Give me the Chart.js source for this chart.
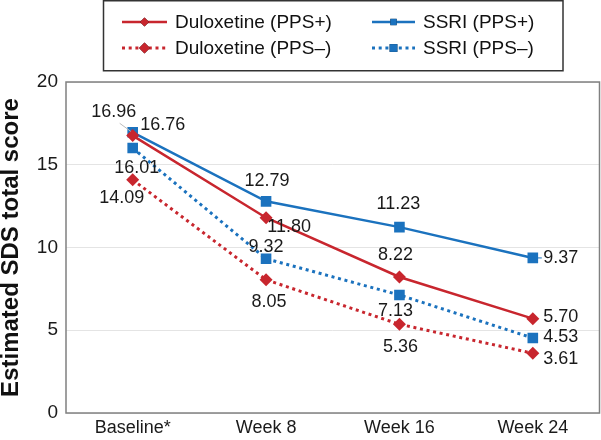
<!DOCTYPE html>
<html>
<head>
<meta charset="utf-8">
<script src="https://cdn.jsdelivr.net/npm/chart.js@4"></script>
<style>
  body { margin: 0; background: #fff; }
  canvas { display: block; }
</style>
</head>
<body>
<canvas id="sdsChart" width="601" height="440"></canvas>
<script>
// Estimated SDS total score over time, by treatment and PPS group
const categories = ["Baseline*", "Week 8", "Week 16", "Week 24"];
const duloxetinePlus = [16.76, 11.8, 8.22, 5.7];
const duloxetineMinus = [14.09, 8.05, 5.36, 3.61];
const ssriPlus = [16.96, 12.79, 11.23, 9.37];
const ssriMinus = [16.01, 9.32, 7.13, 4.53];
const yTicks = [0, 5, 10, 15, 20];

const RED = "#c8262e";
const BLUE = "#1b72be";
const FONT = "'Liberation Sans', Arial, Helvetica, sans-serif";

function makeDataset(label, data, color, dotted, style) {
  return {
    label,
    data,
    borderColor: color,
    backgroundColor: color,
    borderWidth: dotted ? 3 : 2.5,
    borderDash: dotted ? [3, 3.7] : [],
    pointStyle: style,
    pointRadius: style === "rect" ? 7.5 : 6.5,
    pointBorderWidth: 0,
    pointBackgroundColor: color,
    tension: 0,
    fill: false,
  };
}

const datasets = [
  makeDataset("Duloxetine (PPS+)", duloxetinePlus, RED, false, "rectRot"),
  makeDataset("Duloxetine (PPS–)", duloxetineMinus, RED, true, "rectRot"),
  makeDataset("SSRI (PPS+)", ssriPlus, BLUE, false, "rect"),
  makeDataset("SSRI (PPS–)", ssriMinus, BLUE, true, "rect"),
];

// label placement relative to each point (dx, dy), plus optional leader line
const labelOffsets = [
  [[30, -11], [23, 9], [-4, -22], [28, -2]],
  [[-11, 18], [3, 22], [1, 23], [28, 6]],
  [[-19, -20, true], [1, -20], [-1, -23], [28, 0, true]],
  [[4, 20], [0, -12], [-4, 16], [28, -1]],
];

const customDraw = {
  id: "customDraw",
  beforeDatasetsDraw(chart) {
    const { ctx, chartArea: a } = chart;
    ctx.save();
    ctx.strokeStyle = "#808080";
    ctx.lineWidth = 1.5;
    ctx.strokeRect(a.left, a.top, a.right - a.left, a.bottom - a.top);
    ctx.restore();
  },
  afterDatasetsDraw(chart) {
    const { ctx } = chart;
    ctx.save();
    ctx.font = "18px " + FONT;
    ctx.textAlign = "center";
    ctx.textBaseline = "middle";
    chart.data.datasets.forEach((ds, i) => {
      const meta = chart.getDatasetMeta(i);
      meta.data.forEach((pt, j) => {
        const [dx, dy, leader] = labelOffsets[i][j];
        const text = ds.data[j].toFixed(2);
        const lx = pt.x + dx;
        const ly = pt.y + dy;
        if (leader) {
          ctx.strokeStyle = dx < 0 ? "#bbbbbb" : ds.borderColor;
          ctx.lineWidth = 1;
          ctx.beginPath();
          if (dx < 0) {
            ctx.moveTo(lx + 6, ly + 11);
            ctx.lineTo(pt.x - 2, pt.y - 1);
          } else {
            ctx.moveTo(pt.x + 5, pt.y);
            ctx.lineTo(lx - 19, ly);
          }
          ctx.stroke();
        }
        ctx.fillStyle = "#1a1a1a";
        ctx.fillText(text, lx, ly);
      });
    });
    ctx.restore();
  },
  afterDraw(chart) {
    const { ctx, chartArea: a } = chart;
    ctx.save();
    // y axis title
    ctx.translate(11, (a.top + a.bottom) / 2);
    ctx.rotate(-Math.PI / 2);
    ctx.font = "bold 24px " + FONT;
    ctx.fillStyle = "#111";
    ctx.textAlign = "center";
    ctx.textBaseline = "middle";
    ctx.fillText("Estimated SDS total score", 0, 0);
    ctx.restore();

    // legend box
    ctx.save();
    ctx.strokeStyle = "#333";
    ctx.lineWidth = 1.5;
    ctx.strokeRect(103.5, 0.75, 459.5, 70);
    const cols = [[122, 167, 175], [372, 415, 423]];
    const rows = [22, 48];
    chart.data.datasets.forEach((ds, i) => {
      const [x0, x1, tx] = cols[Math.floor(i / 2)];
      const y = rows[i % 2];
      const dotted = ds.borderDash.length > 0;
      ctx.strokeStyle = ds.borderColor;
      ctx.lineWidth = dotted ? 3 : 2.5;
      ctx.setLineDash(dotted ? [3, 3.7] : []);
      ctx.beginPath();
      ctx.moveTo(x0, y);
      ctx.lineTo(x1, y);
      ctx.stroke();
      ctx.setLineDash([]);
      Chart.helpers.drawPoint(ctx, {
        pointStyle: ds.pointStyle,
        radius: dotted ? 5.5 : 4.5,
        borderWidth: 0,
        rotation: 0,
      }, (x0 + x1) / 2, y);
      ctx.fillStyle = ds.borderColor;
      ctx.fill();
      ctx.fillStyle = "#111";
      ctx.font = "19px " + FONT;
      ctx.textAlign = "left";
      ctx.textBaseline = "middle";
      ctx.fillText(ds.label, tx, y + 1);
    });
    ctx.restore();
  },
};

new Chart(document.getElementById("sdsChart"), {
  type: "line",
  data: { labels: categories, datasets },
  plugins: [customDraw],
  options: {
    responsive: false,
    devicePixelRatio: 1,
    animation: false,
    layout: { autoPadding: false, padding: { top: 82, left: 0, right: 1.5, bottom: 0 } },
    plugins: {
      legend: { display: false },
      tooltip: { enabled: false },
    },
    scales: {
      x: {
        offset: true,
        afterFit: (s) => { s.height = 27; s.paddingRight = 0; },
        grid: { display: false, drawTicks: false, offset: true },
        border: { display: false },
        ticks: {
          padding: 4,
          color: "#1a1a1a",
          font: { family: FONT, size: 18 },
        },
      },
      y: {
        min: 0,
        max: 20,
        afterFit: (s) => { s.width = 66; },
        afterBuildTicks: (s) => { s.ticks = yTicks.map((v) => ({ value: v })); },
        grid: { color: "#e4e4e4", lineWidth: 1, drawTicks: false },
        border: { display: false },
        ticks: {
          padding: 8,
          color: "#1a1a1a",
          font: { family: FONT, size: 19 },
        },
      },
    },
  },
});
</script>
</body>
</html>
